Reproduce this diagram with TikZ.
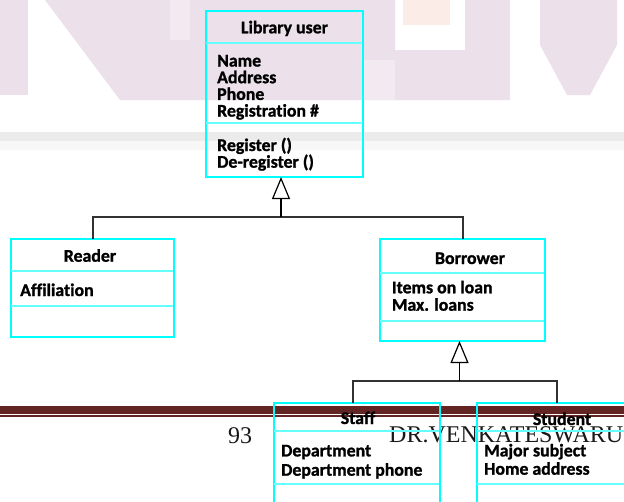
\documentclass[tikz,border=0pt]{standalone}
\usepackage{fontspec}
\newfontfamily\umlfont{Carlito}[Ligatures=CommonOff, BoldFeatures={FakeBold=1.2}]
\newfontfamily\footfont{Liberation Serif}
\usetikzlibrary{arrows.meta}
\definecolor{boxcyan}{RGB}{0,255,255}
\definecolor{sepcyan}{RGB}{100,255,255}
\definecolor{wmpink}{RGB}{236,225,234}
\definecolor{wmpinklight}{RGB}{243,234,241}
\definecolor{wmpeach}{RGB}{252,236,232}
\definecolor{barred}{RGB}{99,37,35}
\definecolor{conn}{RGB}{50,50,50}
\tikzset{
  umlbox/.style={draw=boxcyan, line width=2pt, rectangle, inner sep=0pt, outer sep=0pt},
  sepline/.style={draw=sepcyan, line width=1.5pt},
  umltext/.style={font=\umlfont\bfseries\fontsize{17.8}{18}\selectfont, inner sep=0pt, text=black},
  attr/.style={umltext, anchor=base west},
  title/.style={umltext, anchor=base},
  connector/.style={draw=conn, line width=1.2pt},
  inherit/.style={draw=black, line width=1.2pt, -{Triangle[open, length=22pt, width=18pt, line width=1.2pt]}},
  foottext/.style={font=\footfont\fontsize{24}{24}\selectfont, inner sep=0pt, text=black!90, anchor=base west}
}
\begin{document}
\begin{tikzpicture}[x=1pt, y=-1pt]
\clip (0,0) rectangle (624,501);
\fill[white] (0,0) rectangle (624,501);
% watermark
\fill[wmpink] (0,0) rectangle (28,95);
\fill[wmpink] (45,0) -- (395,0) -- (395,50) -- (465,50) -- (465,0) -- (510,0) -- (510,100) -- (120,100) -- cycle;
\fill[wmpinklight] (170,0) rectangle (190,40);
\fill[wmpinklight] (363,60) rectangle (395,100);
\fill[wmpeach] (403,0) rectangle (450,25);
\fill[wmpink] (540,0) -- (617,0) -- (617,45) -- (590,95) -- (567,95) -- (540,45) -- cycle;
\fill[black!8] (0,132) rectangle (624,141);
\fill[black!3] (0,141) rectangle (624,150);
% footer bar
\fill[barred] (0,406) rectangle (624,413.7);
\fill[barred] (0,414.8) rectangle (624,416.7);
\node[foottext] (pg) at (228,443) {93};
\node[foottext] (au) at (389,442) {DR.VENKATESWARU};
% Library user
\node[umlbox, minimum width=157pt, minimum height=166pt] (lu) at (284.5,94) {};
\draw[sepline] (206,43) -- (361,43);
\draw[sepline] (206,123) -- (361,123);
\node[title] (lut) at (284.5,33.3) {Library user};
\node[attr] (lu1) at (217,66.5) {Name};
\node[attr] (lu2) at (217,83.2) {Address};
\node[attr] (lu3) at (217,99.9) {Phone};
\node[attr] (lu4) at (217,116.6) {Registration \#};
\node[attr] (lu5) at (217,151) {Register ()};
\node[attr] (lu6) at (217,167.7) {De-register ()};
% Reader
\node[umlbox, minimum width=163pt, minimum height=98pt] (rd) at (92.5,288) {};
\draw[sepline] (11,271) -- (173,271);
\draw[sepline] (11,306) -- (173,306);
\node[title] (rdt) at (90,261.7) {Reader};
\node[attr] (rd1) at (20,296) {Affiliation};
% Borrower
\node[umlbox, minimum width=165pt, minimum height=102pt] (bo) at (462.5,290) {};
\draw[sepline] (380,273) -- (544,273);
\draw[sepline] (380,321) -- (544,321);
\node[title] (bot) at (470,264) {Borrower};
\node[attr] (bo1) at (391.7,293.3) {Items on loan};
\node[attr] (bo2) at (391.7,310.7) {Max. loans};
% Staff
\node[umlbox, minimum width=166pt, minimum height=117pt] (st) at (357,461.5) {};
\draw[sepline] (274,431) -- (439,431);
\draw[sepline] (274,484) -- (439,484);
\node[title] (stt) at (358,424) {Staff};
\node[attr] (st1) at (281,456.4) {Department};
\node[attr] (st2) at (281,475.7) {Department phone};
% Student
\node[umlbox, minimum width=163pt, minimum height=117pt] (sd) at (558.5,461.5) {};
\draw[sepline] (477,431) -- (630,431);
\draw[sepline] (477,484) -- (630,484);
\node[title] (sdt) at (562,425) {Student};
\node[attr] (sd1) at (484,456.4) {Major subject};
\node[attr] (sd2) at (484,474.7) {Home address};
% generalisation 1
\coordinate (j1) at (281,217);
\coordinate (r1) at (93,217);
\coordinate (b1) at (463,217);
\draw[connector] (rd.north -| r1) -- (r1) -- (b1) -- (bo.north -| b1);
\draw[inherit] (j1) -- (j1 |- lu.south);
% generalisation 2
\coordinate (j2) at (459.5,381);
\coordinate (s1) at (353,381);
\coordinate (s2) at (557,381);
\draw[connector] (st.north -| s1) -- (s1) -- (s2) -- (sd.north -| s2);
\draw[inherit] (j2) -- (j2 |- bo.south);
\end{tikzpicture}
\end{document}
